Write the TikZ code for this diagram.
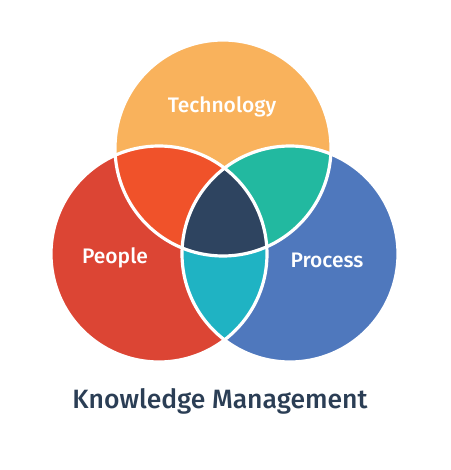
\documentclass[tikz,border=0pt]{standalone}
\usepackage{fontspec}
\setmainfont{Fira Sans}[BoldFont={Fira Sans Medium}]
\definecolor{techc}{HTML}{F9B25C}
\definecolor{peoplec}{HTML}{DC4534}
\definecolor{procc}{HTML}{4F78BD}
\definecolor{tpc}{HTML}{F0522A}
\definecolor{trc}{HTML}{22B9A0}
\definecolor{prc}{HTML}{1FB3C3}
\definecolor{midc}{HTML}{2E4460}
\definecolor{titlec}{HTML}{2B3E55}
\begin{document}
\begin{tikzpicture}[x=1pt,y=-1pt,
  lbl/.style={text=white,font=\fontsize{21}{24}\selectfont\bfseries},
  ttl/.style={text=titlec,font=\fontsize{26.5}{30}\selectfont\bfseries},
  rim/.style={draw=white,line width=3.2pt}]
\useasboundingbox[fill=white] (0,0) rectangle (450,470);
\def\R{108}
\coordinate (T) at (223,148);
\coordinate (P) at (159,254);
\coordinate (Q) at (290,254);
% base circles
\fill[techc] (T) circle (\R);
\fill[peoplec] (P) circle (\R);
\fill[procc] (Q) circle (\R);
% pairwise overlaps
\begin{scope}\clip (T) circle (\R); \fill[tpc] (P) circle (\R);\end{scope}
\begin{scope}\clip (T) circle (\R); \fill[trc] (Q) circle (\R);\end{scope}
\begin{scope}\clip (P) circle (\R); \fill[prc] (Q) circle (\R);\end{scope}
\begin{scope}\clip (T) circle (\R); \clip (P) circle (\R); \fill[midc] (Q) circle (\R);\end{scope}
% white rims
\draw[rim] (T) circle (\R);
\draw[rim] (P) circle (\R);
\draw[rim] (Q) circle (\R);
% labels
\node[lbl] (tech) at (222,107) {Technology};
\node[lbl] (people) at (115,258) {People};
\node[lbl] (proc) at (327,260) {Process};
\node[ttl] (title) at (220,401) {Knowledge Management};
\end{tikzpicture}
\end{document}
